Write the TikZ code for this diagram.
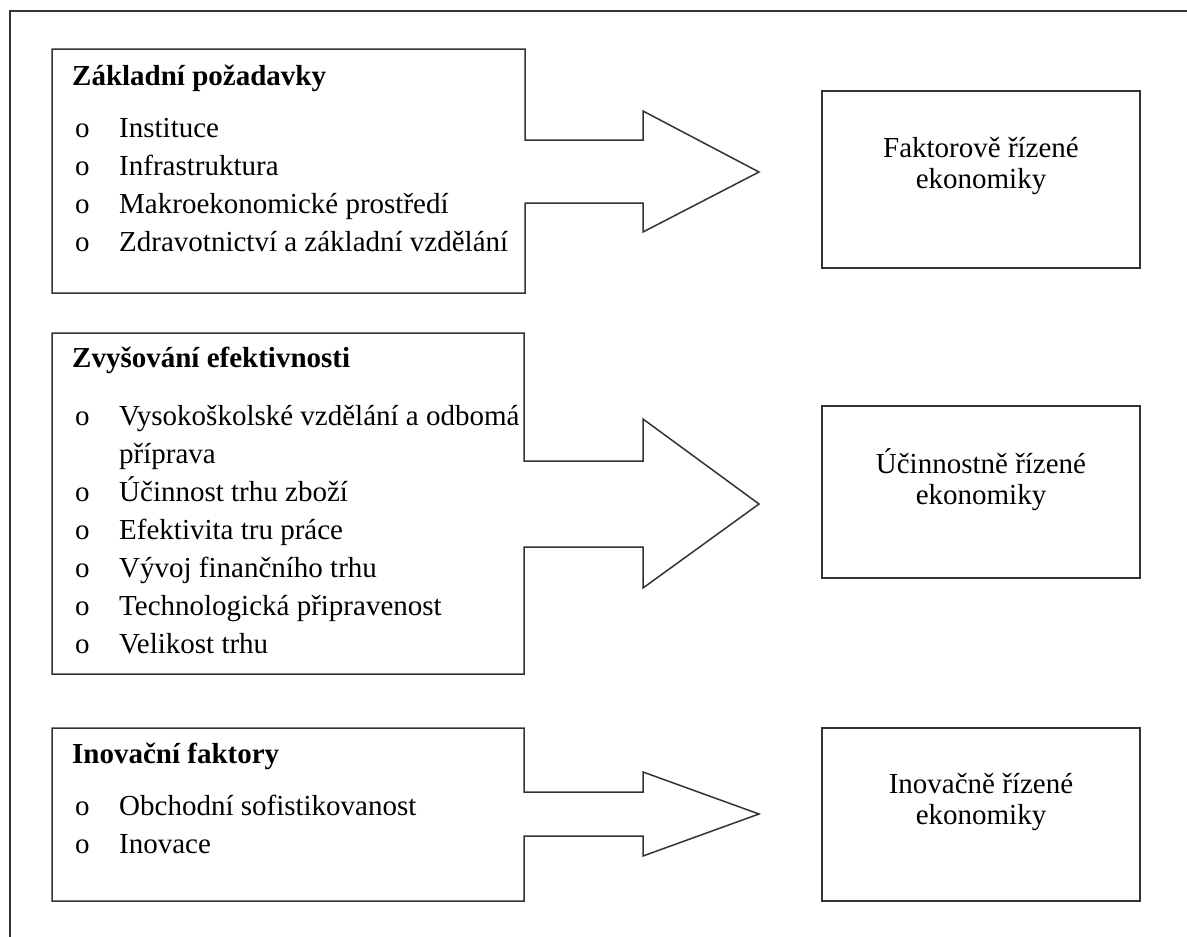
\documentclass[tikz,border=0pt]{standalone}
\usepackage{fontspec}
\setmainfont{Liberation Serif}
\newcommand{\odr}{\makebox[44pt][l]{o}}
\tikzset{
  cara/.style={line width=1.5pt, draw=black!80, line join=miter},
  seznam/.style={anchor=base west, align=left, inner sep=0pt, font=\fontsize{29}{38}\selectfont},
  cil/.style={cara, rectangle, minimum width=318pt, minimum height=177pt, inner sep=0pt},
  cilpopis/.style={align=center, inner sep=0pt, font=\fontsize{29}{31}\selectfont}
}
\begin{document}
\begin{tikzpicture}[x=1pt, y=-1pt]
    \useasboundingbox (0,0) rectangle (1187,937);

    % Ramecek kolem celeho obrazku
    \draw[cara] (10,937) -- (10,11) -- (1187,11);

    % Zakladni pozadavky se sipkou (uzel sedi na uctari posledniho radku)
    \draw[cara] (52,49) -- (525,49) -- (525,140) -- (643,140) -- (643,111) -- (759,172)
      -- (643,232) -- (643,203) -- (525,203) -- (525,293) -- (52,293) -- cycle;
    \node[seznam] (zaklad) at (72,251) {\textbf{Základní požadavky}\\[14pt]
      \hspace{3pt}\odr Instituce\\
      \hspace{3pt}\odr Infrastruktura\\
      \hspace{3pt}\odr Makroekonomické prostředí\\
      \hspace{3pt}\odr Zdravotnictví a základní vzdělání};

    % Zvysovani efektivnosti se sipkou
    \draw[cara] (52,333) -- (524,333) -- (524,461) -- (643,461) -- (643,419) -- (759,504)
      -- (643,588) -- (643,547) -- (524,547) -- (524,674) -- (52,674) -- cycle;
    \node[seznam] (efekt) at (72,653) {\textbf{Zvyšování efektivnosti}\\[20pt]
      \hspace{3pt}\odr Vysokoškolské vzdělání a odbomá\\
      \hspace{3pt}\hspace{44pt}příprava\\
      \hspace{3pt}\odr Účinnost trhu zboží\\
      \hspace{3pt}\odr Efektivita tru práce\\
      \hspace{3pt}\odr Vývoj finančního trhu\\
      \hspace{3pt}\odr Technologická připravenost\\
      \hspace{3pt}\odr Velikost trhu};

    % Inovacni faktory se sipkou
    \draw[cara] (52,728) -- (524,728) -- (524,792) -- (643,792) -- (643,772) -- (759,814)
      -- (643,856) -- (643,836) -- (524,836) -- (524,901) -- (52,901) -- cycle;
    \node[seznam] (inov) at (72,853) {\textbf{Inovační faktory}\\[14pt]
      \hspace{3pt}\odr Obchodní sofistikovanost\\
      \hspace{3pt}\odr Inovace};

    % Typy ekonomik vpravo
    \node[cil] (faktor) at (981,179.5) {};
    \node[cilpopis] at ([yshift=13pt]faktor.center) {Faktorově řízené\\ekonomiky};

    \node[cil, minimum height=172pt] (ucinnost) at (981,492) {};
    \node[cilpopis] at ([yshift=12pt]ucinnost.center) {Účinnostně řízené\\ekonomiky};

    \node[cil, minimum height=173pt] (inovace) at (981,814.5) {};
    \node[cilpopis] at ([yshift=12pt]inovace.center) {Inovačně řízené\\ekonomiky};
  \end{tikzpicture}
\end{document}
